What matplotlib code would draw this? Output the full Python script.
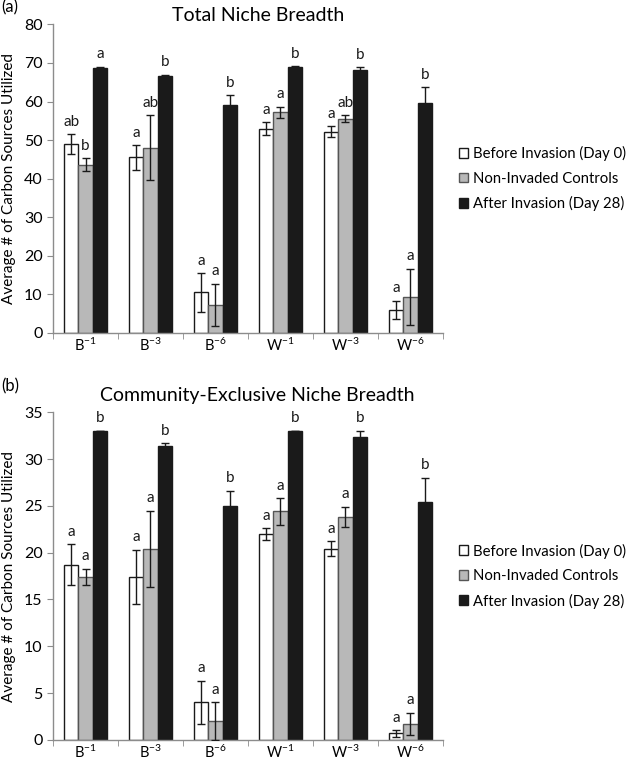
import numpy as np
import matplotlib
matplotlib.use("Agg")
import matplotlib.pyplot as plt
from matplotlib.patches import Patch

plt.rcParams['font.family'] = ['Lato', 'DejaVu Sans']
plt.rcParams['mathtext.fontset'] = 'custom'
plt.rcParams['mathtext.rm'] = 'Lato'
plt.rcParams['mathtext.default'] = 'regular'

# groups
groups = ['B$^{-1}$', 'B$^{-3}$', 'B$^{-6}$', 'W$^{-1}$', 'W$^{-3}$', 'W$^{-6}$']
series = ['Before Invasion (Day 0)', 'Non-Invaded Controls', 'After Invasion (Day 28)']

# (a) Total niche breadth
a_before = [49.0, 45.5, 10.5, 53.0, 52.2, 6.0]
a_before_err = [2.5, 3.2, 5.0, 1.6, 1.4, 2.4]
a_control = [43.6, 48.0, 7.3, 57.2, 55.6, 9.4]
a_control_err = [1.7, 8.4, 5.5, 1.5, 0.8, 7.2]
a_after = [68.6, 66.6, 59.2, 68.9, 68.1, 59.5]
a_after_err = [0.4, 0.4, 2.4, 0.2, 0.8, 4.2]
a_letters = [['ab', 'a', 'a', 'a', 'a', 'a'],
             ['b', 'ab', 'a', 'a', 'ab', 'a'],
             ['a', 'b', 'b', 'b', 'b', 'b']]

# (b) Community-exclusive niche breadth
b_before = [18.7, 17.4, 4.0, 22.0, 20.4, 0.7]
b_before_err = [2.2, 2.9, 2.3, 0.6, 0.8, 0.35]
b_control = [17.4, 20.4, 2.0, 24.4, 23.8, 1.7]
b_control_err = [0.85, 4.1, 2.0, 1.4, 1.1, 1.2]
b_after = [33.0, 31.4, 25.0, 33.0, 32.4, 25.4]
b_after_err = [0.0, 0.3, 1.6, 0.0, 0.6, 2.6]
b_letters = [['a'] * 6, ['a'] * 6, ['b'] * 6]

fill = ['white', '#b8b8b8', '#1a1a1a']
edge = ['#1a1a1a', '#555555', '#1a1a1a']
axis_gray = '#8c8c8c'


def panel(ax, vals, errs, letters, ymax, ystep, title, tpad):
    x = np.arange(len(groups))
    w = 0.222
    for i in range(3):
        ax.bar(x + (i - 1) * w, vals[i], w, color=fill[i], edgecolor=edge[i],
               linewidth=1.0, zorder=2)
        ax.errorbar(x + (i - 1) * w, vals[i], yerr=errs[i], fmt='none',
                    ecolor='#1a1a1a', elinewidth=1.0, capsize=3, capthick=1.0, zorder=3)
        for j in range(len(groups)):
            ax.annotate(letters[i][j], (x[j] + (i - 1) * w, vals[i][j] + errs[i][j]),
                        xytext=(0, 4), textcoords='offset points', ha='center',
                        va='bottom', fontsize=11, color='#1a1a1a')
    ax.set_xlim(-0.5, len(groups) - 0.5)
    ax.set_ylim(0, ymax)
    ax.set_yticks(np.arange(0, ymax + 0.1, ystep))
    ax.set_xticks(x)
    ax.set_xticklabels(groups, fontsize=10.5)
    ax.set_xticks(np.arange(-0.5, len(groups), 1.0), minor=True)
    ax.tick_params(axis='x', which='major', length=0, pad=3)
    ax.tick_params(axis='x', which='minor', length=4, color=axis_gray, direction='out')
    ax.tick_params(axis='y', length=4, color=axis_gray, labelsize=11.5, direction='out')
    for s in ['top', 'right']:
        ax.spines[s].set_visible(False)
    for s in ['left', 'bottom']:
        ax.spines[s].set_color(axis_gray)
        ax.spines[s].set_linewidth(1.0)
    ax.set_title(title, fontsize=14, pad=tpad, x=0.525)
    ax.set_ylabel('Average # of Carbon Sources Utilized', fontsize=11, labelpad=6)
    handles = [Patch(facecolor=fill[i], edgecolor=edge[i], linewidth=1.0) for i in range(3)]
    ax.legend(handles, series, loc='center left', bbox_to_anchor=(1.025, 0.5),
              frameon=False, fontsize=10.7, handlelength=0.65, handleheight=0.65,
              handletextpad=0.3, labelspacing=0.7, borderaxespad=0)


fig = plt.figure(figsize=(6.31, 7.62), dpi=100)
ax1 = fig.add_axes([0.084, 0.563, 0.618, 0.405])
ax2 = fig.add_axes([0.084, 0.029, 0.618, 0.430])

panel(ax1, [a_before, a_control, a_after], [a_before_err, a_control_err, a_after_err],
      a_letters, 80, 10, 'Total Niche Breadth', 1)
panel(ax2, [b_before, b_control, b_after], [b_before_err, b_control_err, b_after_err],
      b_letters, 35, 5, 'Community-Exclusive Niche Breadth', 8)

fig.text(0.002, 0.99, '(a)', fontsize=12, va='center', ha='left')
fig.text(0.002, 0.493, '(b)', fontsize=12, va='center', ha='left')

fig.savefig('out.png', dpi=100)
